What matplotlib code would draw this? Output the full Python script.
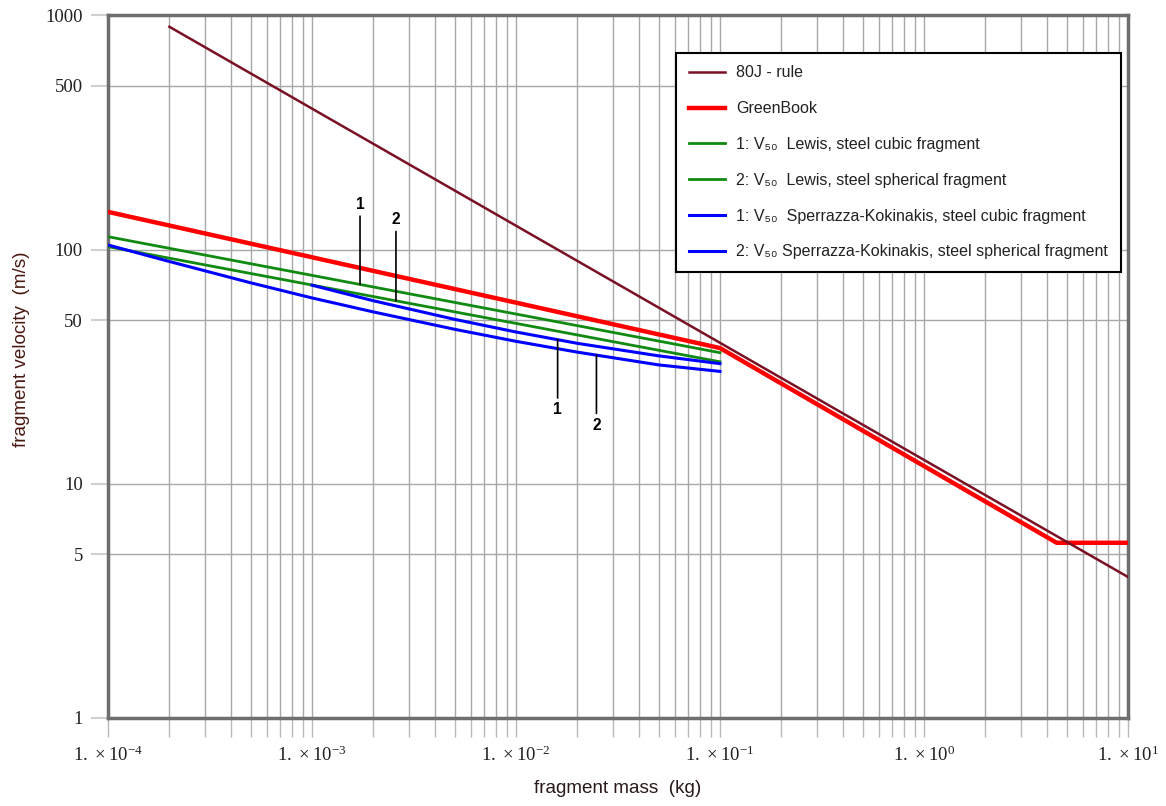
import numpy as np
import matplotlib
matplotlib.use('Agg')
import matplotlib.pyplot as plt
from matplotlib import font_manager
from matplotlib.ticker import FixedLocator, NullFormatter, LogLocator
from matplotlib.font_manager import FontProperties

# values (mass in kg, velocity in m/s)
mass_80j = [2e-4, 10.0]
vel_80j = [895, 4.0]

mass_greenbook = [1e-4, 0.1, 4.47, 10.0]
vel_greenbook = [145, 38, 5.6, 5.6]

mass_lewis_cubic = [1e-4, 0.1]
vel_lewis_cubic = [113.6, 36.3]

mass_lewis_sph = [1e-4, 0.1]
vel_lewis_sph = [103, 33.2]

mass_sk_cubic = [1e-3, 2e-3, 5e-3, 1e-2, 2e-2, 5e-2, 0.1]
vel_sk_cubic = [70.5, 60.5, 50.4, 44.5, 39.8, 35.2, 32.6]

mass_sk_sph = [1e-4, 2e-4, 5e-4, 1e-3, 2e-3, 5e-3, 1e-2, 2e-2, 5e-2, 0.1]
vel_sk_sph = [104.7, 89.0, 72.2, 62.2, 54.2, 45.7, 40.6, 36.5, 32.2, 30.2]

x_major = [1e-4, 1e-3, 1e-2, 1e-1, 1e0, 1e1]
x_labels = ['-4', '-3', '-2', '-1', '0', '1']
y_ticks = [1, 5, 10, 50, 100, 500, 1000]

legend_labels = [
    '80J - rule',
    'GreenBook',
    '1: V\u2085\u2080  Lewis, steel cubic fragment',
    '2: V\u2085\u2080  Lewis, steel spherical fragment',
    '1: V\u2085\u2080  Sperrazza-Kokinakis, steel cubic fragment',
    '2: V\u2085\u2080 Sperrazza-Kokinakis, steel spherical fragment',
]

# narrow sans if available, otherwise regular sans at a smaller size
try:
    font_manager.findfont(FontProperties(family='Liberation Sans Narrow'), fallback_to_default=False)
    sans = ['Liberation Sans Narrow', 'DejaVu Sans']
    k = 1.0
except Exception:
    sans = ['Liberation Sans', 'DejaVu Sans']
    k = 0.8
serif = ['Liberation Serif', 'DejaVu Serif']


def on_curve(m, masses, vels):
    # value of a curve at mass m, interpolated in log-log space
    return 10 ** np.interp(np.log10(m), np.log10(masses), np.log10(vels))


fig = plt.figure(figsize=(11.66, 8.06), dpi=100)
ax = fig.add_axes([0.0926, 0.1092, 0.8748, 0.8716])

ax.plot(mass_greenbook, vel_greenbook, color='#ff0000', lw=3.2, zorder=3, label=legend_labels[1])
ax.plot(mass_80j, vel_80j, color='#7a1024', lw=1.8, zorder=4, label=legend_labels[0])
ax.plot(mass_lewis_cubic, vel_lewis_cubic, color='#108a10', lw=2, zorder=3, label=legend_labels[2])
ax.plot(mass_lewis_sph, vel_lewis_sph, color='#108a10', lw=2, zorder=3, label=legend_labels[3])
ax.plot(mass_sk_cubic, vel_sk_cubic, color='#0000ff', lw=2.2, zorder=3, label=legend_labels[4])
ax.plot(mass_sk_sph, vel_sk_sph, color='#0000ff', lw=2.2, zorder=3, label=legend_labels[5])

ax.set_xscale('log')
ax.set_yscale('log')
ax.set_xlim(1e-4, 10)
ax.set_ylim(1, 1000)

# ticks and grid
ax.xaxis.set_major_locator(FixedLocator(x_major))
ax.xaxis.set_minor_locator(LogLocator(base=10, subs=np.arange(2, 10)))
ax.xaxis.set_minor_formatter(NullFormatter())
ax.set_xticklabels([r'$\mathregular{1.\times10^{' + e + '}}$' for e in x_labels],
                   fontfamily=serif, fontsize=13.5, color='#222222')
ax.yaxis.set_major_locator(FixedLocator(y_ticks))
ax.yaxis.set_minor_locator(FixedLocator([]))
ax.set_yticklabels([str(t) for t in y_ticks], fontfamily=serif, fontsize=13.5, color='#222222')

ax.tick_params(axis='x', which='both', direction='out', length=14, width=1,
               color='#b8b8b8', pad=6)
ax.tick_params(axis='y', which='both', direction='out', length=12, width=1.5,
               color='#d0d0d0', pad=6)
ax.grid(True, which='major', axis='both', color='#a8a8a8', lw=1)
ax.grid(True, which='minor', axis='x', color='#a8a8a8', lw=1)
ax.set_axisbelow(True)

for s in ax.spines.values():
    s.set_color('#6e6e6e')
    s.set_linewidth(2.5)

ax.set_xlabel('fragment mass  (kg)', fontfamily=sans, fontsize=17 * k, color='#2a1a1a')
ax.xaxis.set_label_coords(0.5, -0.088)
ax.set_ylabel('fragment velocity  (m/s)', fontfamily=sans, fontsize=17 * k, color='#4a1a14')
ax.yaxis.set_label_coords(-0.076, 0.525)

# leader-line labels 1 / 2
arrow = dict(arrowstyle='-', color='black', lw=1.2, shrinkA=1, shrinkB=0)
notes = [
    ('1', 1.72e-3, mass_lewis_cubic, vel_lewis_cubic, 80),
    ('2', 2.58e-3, mass_lewis_sph, vel_lewis_sph, 81),
    ('1', 1.6e-2, mass_sk_cubic, vel_sk_cubic, -70),
    ('2', 2.48e-2, mass_sk_sph, vel_sk_sph, -70),
]
for txt, m, ms, vs, dy in notes:
    ax.annotate(txt, xy=(m, on_curve(m, ms, vs)), xytext=(0, dy),
                textcoords='offset pixels', ha='center', va='center',
                fontsize=14 * k, fontweight='bold', fontfamily=sans,
                arrowprops=arrow, zorder=5)

handles, labels = ax.get_legend_handles_labels()
order = [labels.index(l) for l in legend_labels]
leg = ax.legend([handles[i] for i in order], [labels[i] for i in order],
                loc='upper right', bbox_to_anchor=(0.993, 0.9466), borderaxespad=0,
                prop=FontProperties(family=sans, size=14.4 * k), fancybox=False,
                framealpha=1, edgecolor='black', labelspacing=1.3,
                handlelength=2.25, handletextpad=0.73, borderpad=0.78)
leg.get_frame().set_linewidth(1.5)
for t in leg.get_texts():
    t.set_color('#222222')

fig.savefig('out.png', dpi=100)
